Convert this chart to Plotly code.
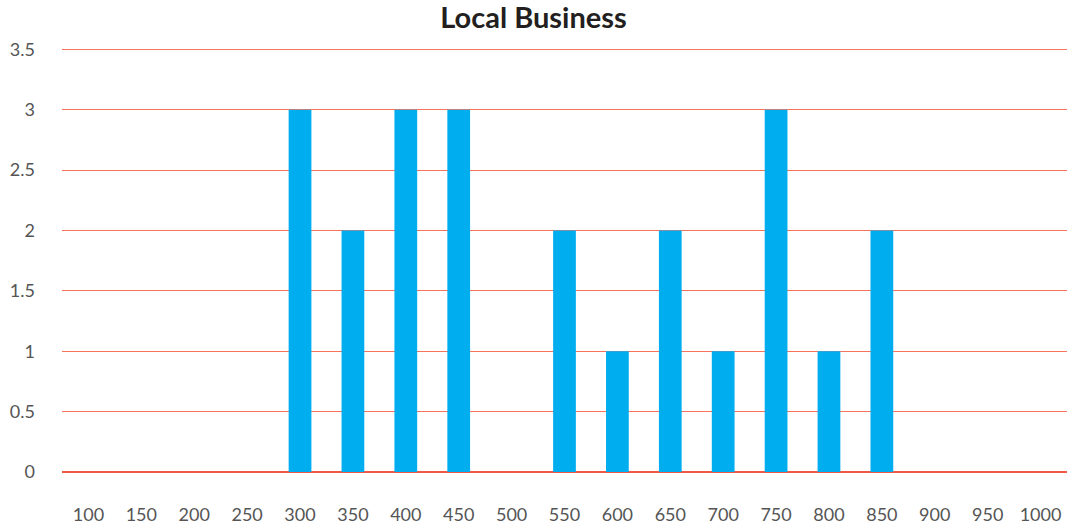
import plotly.graph_objects as go

categories = [str(v) for v in range(100, 1001, 50)]
values = [0, 0, 0, 0, 3, 2, 3, 3, 0, 2, 1, 2, 1, 3, 1, 2, 0, 0, 0]
y_ticks = [0, 0.5, 1, 1.5, 2, 2.5, 3, 3.5]
y_labels = ["0", "0.5", "1", "1.5", "2", "2.5", "3", "3.5"]

fig = go.Figure(go.Bar(x=categories, y=values, marker_color="#00AEEF", marker_line_width=0))

fig.update_layout(
    width=1067, height=526,
    paper_bgcolor="white", plot_bgcolor="white",
    margin=dict(l=62, r=0, t=47, b=54),
    bargap=0.57,
    title=dict(text="<b>Local Business</b>", x=0.5, xanchor="center", y=0.966, yanchor="middle",
               font=dict(family="Lato", size=29, color="#231F20")),
    font=dict(family="Lato", size=18, color="#555555"),
    showlegend=False,
)
fig.update_xaxes(type="category", showgrid=False, showline=False, ticks="", ticklabelstandoff=30,
                 tickfont=dict(size=18, color="#555555"))
fig.update_yaxes(range=[0, 3.52], tickvals=y_ticks, ticktext=y_labels,
                 showgrid=True, gridcolor="#F8735C", gridwidth=1,
                 zeroline=True, zerolinecolor="#EE5A43", zerolinewidth=1.5, showline=False,
                 ticks="", ticklabelstandoff=26, tickfont=dict(size=18, color="#555555"))

fig.write_html("out.html", config={"displayModeBar": False},
               post_script="document.body.style.margin='0';document.body.style.overflow='hidden';")
